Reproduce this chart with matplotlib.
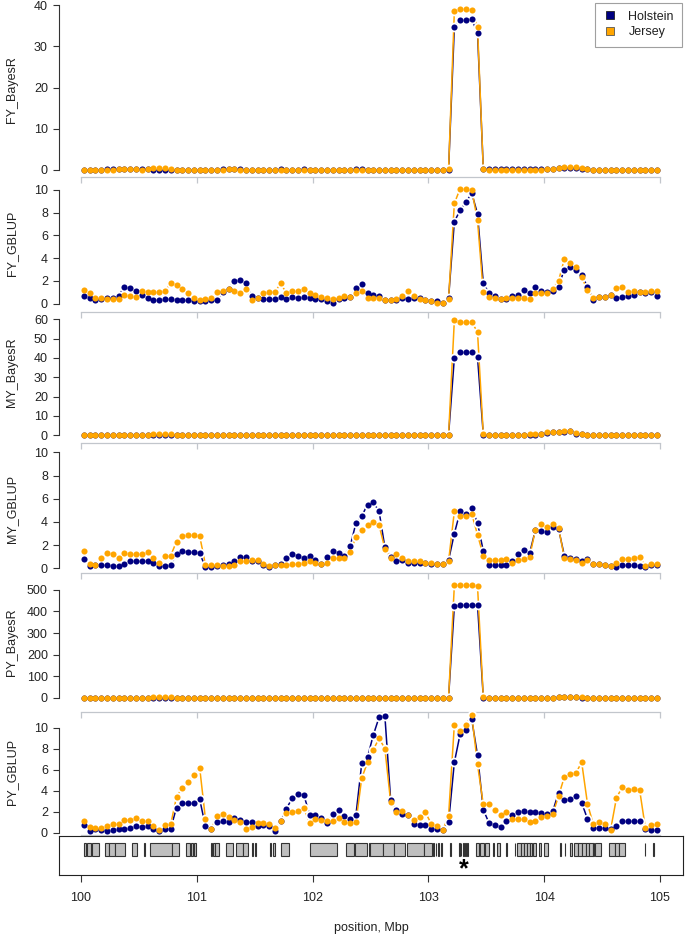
import numpy as np
import matplotlib
matplotlib.use("Agg")
import matplotlib.pyplot as plt
from matplotlib.patches import Rectangle
from matplotlib.lines import Line2D

plt.rcParams['font.family'] = ['Liberation Sans', 'DejaVu Sans']

# ---------------- data ----------------
positions = np.linspace(100.025, 104.975, 100)   # window centres, Mbp
breeds = ["Holstein", "Jersey"]

fy_bayesr_hol = [0.1,0.1,0.1,0.1,0.2,0.2,0.3,0.3,0.2,0.2,
                 0.2,0.2,0.1,0.1,0.1,0.1,0.1,0.1,0.1,0.1,
                 0.1,0.1,0.1,0.1,0.2,0.2,0.2,0.2,0.1,0.1,
                 0.1,0.1,0.1,0.1,0.2,0.1,0.1,0.1,0.2,0.1,
                 0.1,0.1,0.1,0.1,0.1,0.1,0.1,0.2,0.2,0.1,
                 0.1,0.1,0.1,0.1,0.1,0.1,0.1,0.1,0.1,0.1,
                 0.1,0.1,0.1,0.1,34.7,36.3,36.3,36.5,33.3,0.3,
                 0.2,0.2,0.2,0.2,0.2,0.2,0.2,0.2,0.2,0.2,
                 0.2,0.3,0.4,0.5,0.5,0.5,0.3,0.2,0.1,0.1,
                 0.1,0.1,0.1,0.1,0.1,0.1,0.1,0.1,0.1,0.1]
fy_bayesr_jer = [0.1,0.1,0.1,0.1,0.1,0.1,0.2,0.2,0.2,0.2,
                 0.1,0.2,0.4,0.4,0.4,0.3,0.1,0.1,0.1,0.1,
                 0.1,0.1,0.1,0.1,0.1,0.2,0.2,0.1,0.1,0.1,
                 0.1,0.1,0.1,0.1,0.1,0.1,0.1,0.1,0.1,0.1,
                 0.1,0.1,0.1,0.1,0.1,0.1,0.1,0.1,0.1,0.1,
                 0.1,0.1,0.1,0.1,0.1,0.1,0.1,0.1,0.1,0.1,
                 0.1,0.1,0.1,0.2,38.5,39.0,39.0,38.8,34.7,0.2,
                 0.1,0.1,0.1,0.1,0.1,0.1,0.1,0.1,0.1,0.1,
                 0.2,0.3,0.5,0.7,0.8,0.7,0.5,0.2,0.1,0.1,
                 0.1,0.1,0.1,0.1,0.1,0.1,0.1,0.1,0.1,0.1]

fy_gblup_hol = [0.7,0.5,0.3,0.4,0.5,0.5,0.7,1.5,1.4,1.1,
                0.8,0.5,0.3,0.3,0.4,0.4,0.3,0.3,0.3,0.2,
                0.2,0.2,0.3,0.3,1.0,1.3,2.0,2.1,1.8,0.7,
                0.5,0.4,0.4,0.4,0.6,0.4,0.6,0.5,0.6,0.5,
                0.4,0.4,0.2,0.1,0.4,0.5,0.6,1.4,1.7,0.9,
                0.8,0.7,0.3,0.3,0.3,0.5,0.4,0.5,0.5,0.3,
                0.2,0.2,0.1,0.5,7.2,8.2,8.9,9.7,7.9,1.8,
                0.9,0.7,0.4,0.4,0.7,0.8,1.2,0.9,1.5,1.1,
                1.0,1.1,1.5,3.0,3.2,3.0,2.5,1.5,0.3,0.6,
                0.6,0.8,0.5,0.6,0.7,0.8,1.0,0.9,1.0,0.7]
fy_gblup_jer = [1.2,0.9,0.5,0.5,0.4,0.4,0.4,0.8,0.7,0.6,
                1.1,1.0,1.0,1.0,1.1,1.8,1.6,1.3,0.9,0.5,
                0.3,0.4,0.5,1.0,1.1,1.3,1.1,0.9,1.3,0.3,
                0.5,0.9,1.0,1.0,1.8,0.9,1.1,1.1,1.3,0.9,
                0.8,0.6,0.5,0.4,0.5,0.7,0.6,0.9,1.1,0.5,
                0.5,0.5,0.3,0.3,0.4,0.7,1.1,0.7,0.4,0.3,
                0.2,0.1,0.1,0.4,8.8,10.1,10.1,10.0,7.3,1.0,
                0.6,0.5,0.4,0.5,0.5,0.5,0.5,0.4,0.9,0.9,
                0.9,1.3,2.0,3.9,3.6,3.2,2.3,1.2,0.5,0.6,
                0.6,0.8,1.4,1.5,1.0,1.1,1.0,1.0,1.1,1.1]

my_bayesr_hol = [0.2,0.2,0.2,0.2,0.2,0.2,0.2,0.2,0.2,0.2,
                 0.2,0.2,0.3,0.4,0.4,0.3,0.2,0.2,0.2,0.2,
                 0.2,0.2,0.2,0.2,0.2,0.2,0.2,0.2,0.2,0.2,
                 0.2,0.2,0.2,0.2,0.2,0.2,0.2,0.2,0.2,0.2,
                 0.2,0.2,0.2,0.2,0.2,0.2,0.2,0.2,0.2,0.2,
                 0.2,0.2,0.2,0.2,0.2,0.2,0.2,0.2,0.2,0.2,
                 0.2,0.2,0.2,0.2,40.0,43.0,43.0,43.3,40.5,0.3,
                 0.2,0.2,0.2,0.2,0.3,0.3,0.4,0.4,0.4,0.6,
                 1.0,1.5,1.5,1.8,2.0,0.8,0.5,0.3,0.2,0.2,
                 0.2,0.2,0.2,0.2,0.2,0.2,0.2,0.2,0.2,0.2]
my_bayesr_jer = [0.2,0.2,0.2,0.2,0.2,0.2,0.2,0.2,0.2,0.2,
                 0.2,0.3,0.6,0.8,0.8,0.6,0.2,0.2,0.2,0.2,
                 0.2,0.2,0.2,0.2,0.2,0.2,0.2,0.2,0.2,0.2,
                 0.2,0.2,0.2,0.2,0.2,0.2,0.2,0.2,0.2,0.2,
                 0.2,0.2,0.2,0.2,0.2,0.2,0.2,0.2,0.2,0.2,
                 0.2,0.2,0.2,0.2,0.2,0.2,0.2,0.2,0.2,0.2,
                 0.2,0.2,0.2,0.2,59.5,58.5,58.5,58.5,53.5,0.5,
                 0.2,0.2,0.2,0.2,0.2,0.2,0.4,0.5,0.5,0.8,
                 1.5,1.9,1.6,2.0,2.3,1.0,0.6,0.3,0.2,0.2,
                 0.2,0.2,0.2,0.2,0.2,0.2,0.2,0.2,0.2,0.2]

my_gblup_hol = [0.8,0.2,0.3,0.3,0.3,0.2,0.2,0.4,0.6,0.6,
                0.6,0.6,0.5,0.2,0.2,0.3,1.2,1.5,1.4,1.4,
                1.3,0.1,0.1,0.2,0.3,0.4,0.6,1.0,1.0,0.6,
                0.6,0.3,0.1,0.3,0.4,0.9,1.2,1.1,0.9,1.1,
                0.7,0.4,1.0,1.5,1.3,1.1,1.9,3.9,4.5,5.5,
                5.7,4.9,1.8,1.0,0.6,0.7,0.5,0.5,0.5,0.5,
                0.4,0.4,0.4,0.7,3.0,4.9,4.7,5.2,3.9,1.5,
                0.3,0.3,0.3,0.3,0.6,1.2,1.6,1.3,3.3,3.2,
                3.1,3.6,3.4,1.1,0.9,0.8,0.6,0.8,0.4,0.4,
                0.3,0.2,0.1,0.3,0.3,0.3,0.2,0.1,0.3,0.3]
my_gblup_jer = [1.5,0.4,0.3,0.9,1.3,1.2,0.9,1.3,1.2,1.2,
                1.2,1.4,0.9,0.5,1.1,1.1,2.3,2.8,2.9,2.9,
                2.8,0.3,0.3,0.3,0.2,0.2,0.3,0.6,0.6,0.7,
                0.7,0.4,0.2,0.3,0.3,0.3,0.4,0.4,0.5,0.6,
                0.5,0.4,0.5,0.9,0.9,0.9,1.4,2.7,3.3,3.7,
                4.0,3.7,1.7,0.9,1.2,0.9,0.6,0.6,0.6,0.5,
                0.5,0.4,0.4,0.6,4.9,4.5,4.5,4.7,2.9,1.1,
                0.7,0.7,0.7,0.8,0.5,0.7,0.8,1.0,3.3,3.8,
                3.6,3.8,3.5,0.9,0.8,0.7,0.5,0.7,0.4,0.4,
                0.3,0.2,0.5,0.8,0.8,0.9,1.0,0.2,0.4,0.4]

py_bayesr_hol = [2,2,2,2,2,2,2,2,2,2,
                 2,2,2,2,2,2,2,2,2,2,
                 2,2,2,2,2,2,2,2,2,2,
                 2,2,2,2,2,2,2,2,2,2,
                 2,2,2,2,2,2,2,2,2,2,
                 2,2,2,2,2,2,2,2,2,2,
                 2,2,2,2,425,428,430,430,431,2,
                 2,2,2,2,2,2,2,2,2,2,
                 2,2,3,3,3,3,2,2,2,2,
                 2,2,2,2,2,2,2,2,2,2]
py_bayesr_jer = [2,2,2,2,2,2,2,2,2,2,
                 2,2,3,3,3,3,2,2,2,2,
                 2,2,2,2,2,2,2,2,2,2,
                 2,2,2,2,2,2,2,2,2,2,
                 2,2,2,2,2,2,2,2,2,2,
                 2,2,2,2,2,2,2,2,2,2,
                 2,2,2,2,520,521,521,522,518,3,
                 2,2,2,2,2,2,2,2,2,2,
                 2,2,3,4,5,4,3,2,2,2,
                 2,2,2,2,2,2,2,2,2,2]

py_gblup_hol = [0.7,0.2,0.35,0.3,0.2,0.3,0.35,0.35,0.45,0.6,
                0.55,0.6,0.4,0.2,0.35,0.4,2.4,2.8,2.8,2.8,
                3.2,0.6,0.4,1.0,1.1,1.05,1.4,1.2,1.0,1.0,
                0.6,0.7,0.6,0.15,1.1,2.3,3.3,3.65,3.6,1.7,
                1.7,1.4,0.9,1.8,2.15,1.55,1.3,1.7,6.6,7.2,
                9.3,11.0,11.1,3.1,2.2,1.8,1.7,0.8,0.7,0.7,
                0.35,0.35,0.3,1.0,6.7,9.4,9.8,10.8,7.4,2.2,
                0.9,0.7,0.55,1.1,1.7,2.0,2.05,1.95,1.95,1.9,
                1.8,2.05,3.8,3.1,3.2,3.5,2.85,1.3,0.45,0.45,
                0.45,0.35,0.6,1.1,1.1,1.1,1.1,0.35,0.25,0.3]
py_gblup_jer = [1.1,0.5,0.45,0.45,0.6,0.8,0.8,1.2,1.2,1.4,
                1.1,1.1,0.6,0.3,0.7,0.8,3.4,4.3,4.8,5.5,
                6.2,1.3,0.35,1.6,1.75,1.5,1.25,1.0,0.4,0.55,
                0.9,0.9,0.8,0.45,1.1,1.9,2.0,2.1,2.35,0.9,
                1.3,1.25,1.1,1.1,1.4,1.0,0.95,1.0,5.2,6.7,
                7.9,9.0,8.0,2.9,2.0,2.05,1.65,1.25,1.45,1.95,
                0.85,0.65,0.25,1.6,10.3,9.7,10.3,11.2,6.5,2.7,
                2.75,2.2,1.65,2.0,1.3,1.3,1.3,1.05,1.15,1.45,
                1.55,1.75,3.5,5.3,5.55,5.7,6.7,2.75,0.8,1.0,
                0.8,0.3,3.3,4.35,4.05,4.2,4.1,0.45,0.75,0.8]

panel_labels = ["FY_BayesR", "FY_GBLUP", "MY_BayesR", "MY_GBLUP", "PY_BayesR", "PY_GBLUP"]
panel_yticks = [[0, 10, 20, 30, 40], [0, 2, 4, 6, 8, 10], [0, 10, 20, 30, 40, 50, 60],
                [0, 2, 4, 6, 8, 10], [0, 100, 200, 300, 400, 500], [0, 2, 4, 6, 8, 10]]
panel_data = [(fy_bayesr_hol, fy_bayesr_jer), (fy_gblup_hol, fy_gblup_jer),
              (my_bayesr_hol, my_bayesr_jer), (my_gblup_hol, my_gblup_jer),
              (py_bayesr_hol, py_bayesr_jer), (py_gblup_hol, py_gblup_jer)]

x_ticks = [100, 101, 102, 103, 104, 105]

gene_start = [100.027,100.050,100.095,100.208,100.243,100.290,100.440,100.548,100.600,100.790,
              100.905,100.950,100.975,101.120,101.140,101.160,101.250,101.335,101.400,101.480,
              101.505,101.630,101.655,101.730,101.980,102.290,102.365,102.490,102.500,102.610,
              102.700,102.820,102.960,103.040,103.065,103.085,103.110,103.190,103.265,103.280,
              103.300,103.315,103.335,103.410,103.445,103.490,103.560,103.595,103.675,103.745,
              103.770,103.800,103.830,103.855,103.880,103.905,103.960,104.000,104.140,104.180,
              104.220,104.260,104.290,104.330,104.360,104.390,104.420,104.440,104.565,104.610,
              104.650,104.868,104.940]
gene_end = [100.045,100.090,100.155,100.243,100.290,100.376,100.486,100.556,100.790,100.845,
            100.940,100.965,100.990,101.135,101.155,101.190,101.310,101.400,101.440,101.490,
            101.515,101.645,101.675,101.800,102.210,102.355,102.470,102.495,102.610,102.700,
            102.800,102.960,103.030,103.050,103.070,103.095,103.115,103.195,103.270,103.285,
            103.310,103.325,103.340,103.440,103.485,103.525,103.570,103.620,103.680,103.750,
            103.800,103.830,103.850,103.880,103.900,103.930,103.970,104.030,104.145,104.185,
            104.240,104.290,104.330,104.360,104.390,104.420,104.435,104.490,104.610,104.650,
            104.695,104.875,104.948]
star_pos = 103.31

# ---------------- layout (pixels) ----------------
W, H = 685, 935
L, R = 59, 683
XLIM = (99.81, 105.2)
# (top, bottom, value_a, pix_a, value_b, pix_b, ylabel_centre)
panel_geom = [(2, 177, 0, 170.0, 40, 5.0, 90),
              (184, 312, 0, 303.7, 10, 189.7, 243),
              (314, 443, 0, 435.3, 60, 319.3, 372),
              (446, 573, 0, 568.3, 10, 452.3, 509),
              (576, 712, 0, 698.0, 500, 589.7, 642),
              (716, 835, 0, 832.7, 10, 727.7, 772)]

NAVY = "#000080"
ORANGE = "#FFA500"
AXGREY = "#C2C6CC"
TXT = "#222222"
FS = 9
MS = 4.4      # dot size (pt)
GAP_MS = 7.0  # white gap around dots (R type="b")

fig = plt.figure(figsize=(W / 100, H / 100), dpi=100)


def add_ax(top, bottom):
    return fig.add_axes([L / W, 1 - bottom / H, (R - L) / W, (bottom - top) / H])


axes = []
for k, (lab, ticks, (hol, jer), geom) in enumerate(zip(panel_labels, panel_yticks, panel_data, panel_geom)):
    top, bot, va, pa, vb, pb, yc = geom
    ax = add_ax(top, bot)
    s = (pa - pb) / (vb - va)
    ylo = va - (bot - pa) / s
    yhi = vb + (pb - top) / s
    # lines
    ax.plot(positions, hol, color=NAVY, lw=1.1, zorder=1.2, clip_on=False)
    ax.plot(positions, jer, color=ORANGE, lw=1.1, zorder=1.3, clip_on=False)
    # gaps around points (type = "b")
    for ser in (hol, jer):
        ax.plot(positions, ser, ls='none', marker='o', ms=GAP_MS, mew=0, color='white',
                zorder=1.5, clip_on=False)
    # points
    ax.plot(positions, hol, ls='none', color=NAVY, marker='o', ms=MS, mew=0, zorder=3, clip_on=False)
    ax.plot(positions, jer, ls='none', color=ORANGE, marker='o', ms=MS, mew=0, zorder=3.1, clip_on=False)
    ax.set_xlim(*XLIM)
    ax.set_ylim(ylo, yhi)
    ax.patch.set_alpha(0)
    for sp in ("top", "right"):
        ax.spines[sp].set_visible(False)
    ax.spines["left"].set_bounds(ticks[0], ticks[-1])
    ax.spines["left"].set_color("#333333")
    ax.spines["left"].set_linewidth(0.8)
    ax.spines["bottom"].set_bounds(x_ticks[0], x_ticks[-1])
    ax.spines["bottom"].set_color(AXGREY)
    ax.spines["bottom"].set_linewidth(0.9)
    ax.set_yticks(ticks)
    ax.set_yticklabels([str(t) for t in ticks])
    ax.set_xticks(x_ticks)
    ax.tick_params(axis='y', direction='out', length=4, width=0.8, color="#333333",
                   labelsize=FS, labelcolor=TXT, pad=4)
    ax.tick_params(axis='x', direction='out', length=4, width=0.9, color=AXGREY, labelbottom=False)
    fig.text(12 / W, 1 - yc / H, lab, rotation=90, ha='center', va='center', fontsize=FS, color=TXT)
    axes.append(ax)

# legend
handles = [Line2D([], [], ls='none', marker='s', ms=6, color=NAVY, mec="#222222", mew=0.6),
           Line2D([], [], ls='none', marker='s', ms=6, color=ORANGE, mec="#555555", mew=0.6)]
leg = axes[0].legend(handles, breeds, loc='upper right', bbox_to_anchor=(682 / W, 1 - 2.5 / H),
                     bbox_transform=fig.transFigure, borderaxespad=0, fontsize=FS, frameon=True,
                     fancybox=False, edgecolor="#888888", borderpad=0.65, labelspacing=0.3,
                     handlelength=1.0, handletextpad=1.0)
leg.get_frame().set_linewidth(0.8)
leg.set_zorder(10)
for t in leg.get_texts():
    t.set_color(TXT)

# gene track
gax = add_ax(836, 875)
gax.set_xlim(*XLIM)
gax.set_ylim(0, 1)
for s0, e0 in zip(gene_start, gene_end):
    gax.add_patch(Rectangle((s0, 0.49), e0 - s0, 0.33, facecolor="#BEBEBE", edgecolor="#333333", lw=0.8))
gax.text(star_pos, -0.04, "*", ha='center', va='baseline', fontsize=18, fontweight='bold', color='black')
for sp in gax.spines.values():
    sp.set_color("#222222")
    sp.set_linewidth(0.8)
gax.set_yticks([])
gax.set_xticks(x_ticks)
gax.set_xticklabels([str(t) for t in x_ticks])
gax.tick_params(axis='x', direction='out', length=5, width=0.8, color="#333333",
                labelsize=FS, labelcolor=TXT, pad=7.5)
fig.text((L + R) / 2 / W, 1 - 928 / H, "position, Mbp", ha='center', va='center', fontsize=FS, color=TXT)

fig.savefig("out.png", dpi=100)
